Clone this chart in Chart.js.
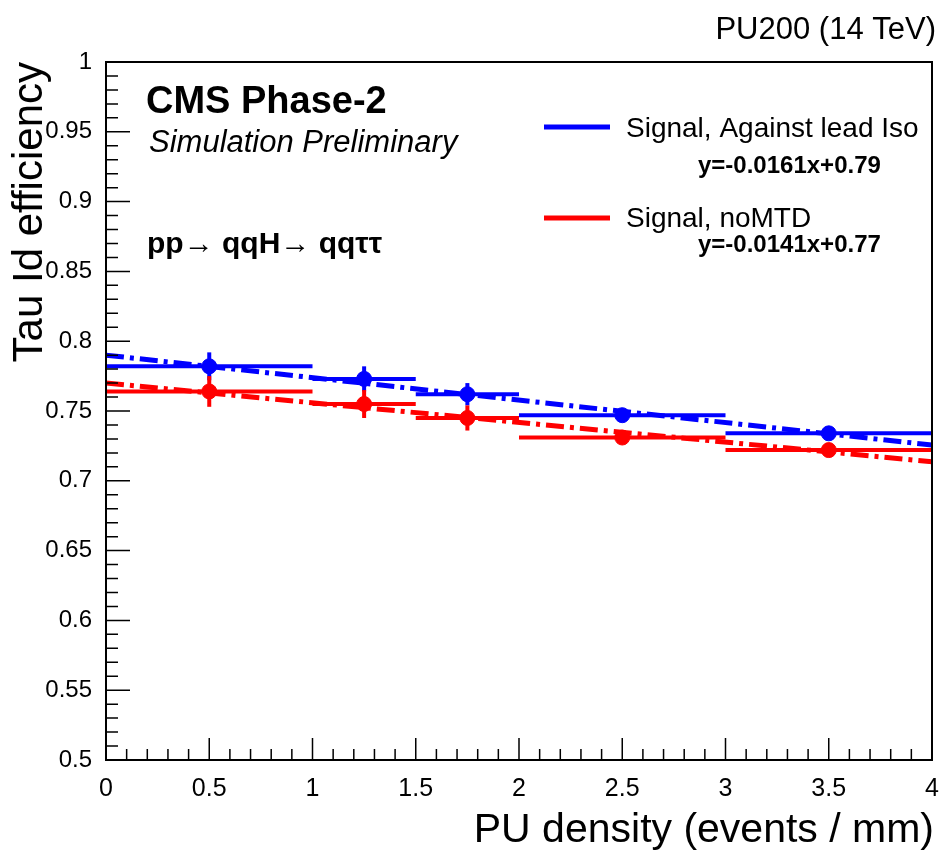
<!DOCTYPE html>
<html lang="en">
<head>
    <meta charset="UTF-8">
    <title>Tau Id efficiency vs PU density</title>
    <script src="https://cdn.jsdelivr.net/npm/chart.js"></script>
    <style>
        body {
            margin: 0;
            background: #fff;
        }
        canvas {
            display: block;
        }
    </style>
</head>
<body>
    <canvas id="myChart" width="946" height="855"></canvas>

    <script>
        // bins in PU density (events / mm)
        const binLow = [0, 1, 1.5, 2, 3];
        const binHigh = [1, 1.5, 2, 3, 4];
        const binCenter = [0.5, 1.25, 1.75, 2.5, 3.5];

        // Signal, Against lead Iso
        const blueEff = [0.782, 0.773, 0.762, 0.747, 0.734];
        const blueErr = [0.010, 0.009, 0.008, 0.003, 0.003];
        // Signal, noMTD
        const redEff = [0.764, 0.755, 0.745, 0.731, 0.722];
        const redErr = [0.011, 0.010, 0.009, 0.003, 0.003];

        // linear fits, values at x = 0 and x = 4
        const fitX = [0, 4];
        const blueFit = [0.79, 0.7256];
        const redFit = [0.77, 0.7136];

        const xTicks = [0, 0.5, 1, 1.5, 2, 2.5, 3, 3.5, 4];
        const yTicks = [0.5, 0.55, 0.6, 0.65, 0.7, 0.75, 0.8, 0.85, 0.9, 0.95, 1];

        const BLUE = 'rgb(0, 0, 255)';
        const RED = 'rgb(255, 0, 0)';
        const FONT = '"Liberation Sans", Arial, sans-serif';

        const series = [
            { eff: blueEff, err: blueErr, color: BLUE },
            { eff: redEff, err: redErr, color: RED }
        ];

        function pts(xs, ys) {
            return xs.map((x, i) => ({ x: x, y: ys[i] }));
        }

        const rootPlugin = {
            id: 'rootStyle',
            beforeDatasetsDraw(chart) {
                const ctx = chart.ctx;
                const xs = chart.scales.x;
                const ys = chart.scales.y;
                ctx.save();
                ctx.lineWidth = 4;
                series.forEach(s => {
                    ctx.strokeStyle = s.color;
                    s.eff.forEach((v, i) => {
                        const py = ys.getPixelForValue(v);
                        ctx.beginPath();
                        ctx.moveTo(xs.getPixelForValue(binLow[i]), py);
                        ctx.lineTo(xs.getPixelForValue(binHigh[i]), py);
                        ctx.stroke();
                        const px = xs.getPixelForValue(binCenter[i]);
                        ctx.beginPath();
                        ctx.moveTo(px, ys.getPixelForValue(v - s.err[i]));
                        ctx.lineTo(px, ys.getPixelForValue(v + s.err[i]));
                        ctx.stroke();
                    });
                });
                ctx.restore();
            },
            afterDraw(chart) {
                const ctx = chart.ctx;
                const a = chart.chartArea;
                const xs = chart.scales.x;
                const ys = chart.scales.y;
                ctx.save();

                // frame
                ctx.strokeStyle = '#000';
                ctx.lineWidth = 2;
                ctx.strokeRect(a.left, a.top, a.right - a.left, a.bottom - a.top);

                // ticks, pointing inwards
                ctx.lineWidth = 1.5;
                ctx.beginPath();
                for (let i = 0; i <= 40; i++) {
                    const px = xs.getPixelForValue(i * 0.1);
                    const len = (i % 5 === 0) ? 22 : 11;
                    ctx.moveTo(px, a.bottom);
                    ctx.lineTo(px, a.bottom - len);
                }
                for (let i = 0; i <= 50; i++) {
                    const py = ys.getPixelForValue(0.5 + i * 0.01);
                    const len = (i % 5 === 0) ? 24 : 12;
                    ctx.moveTo(a.left, py);
                    ctx.lineTo(a.left + len, py);
                }
                ctx.stroke();

                // axis titles
                ctx.fillStyle = '#000';
                ctx.font = '41px ' + FONT;
                ctx.textAlign = 'right';
                ctx.textBaseline = 'alphabetic';
                ctx.fillText('PU density (events / mm)', 934, 842);
                ctx.save();
                ctx.translate(42, 62);
                ctx.rotate(-Math.PI / 2);
                ctx.font = '42px ' + FONT;
                ctx.fillText('Tau Id efficiency', 0, 0);
                ctx.restore();

                ctx.font = '31px ' + FONT;
                ctx.fillText('PU200 (14 TeV)', 936, 39);

                // CMS labels
                ctx.textAlign = 'left';
                ctx.font = 'bold 38px ' + FONT;
                ctx.fillText('CMS Phase-2', 146, 113);
                ctx.font = 'italic 31px ' + FONT;
                ctx.fillText('Simulation Preliminary', 149, 152);
                ctx.font = 'bold 30px ' + FONT;
                ctx.fillText('pp\u2192 qqH\u2192 qq\u03c4\u03c4', 147, 253);

                // legend
                ctx.lineWidth = 5;
                ctx.strokeStyle = BLUE;
                ctx.beginPath();
                ctx.moveTo(544, 127);
                ctx.lineTo(610, 127);
                ctx.stroke();
                ctx.strokeStyle = RED;
                ctx.beginPath();
                ctx.moveTo(544, 218);
                ctx.lineTo(610, 218);
                ctx.stroke();

                ctx.font = '28px ' + FONT;
                ctx.fillText('Signal, Against lead Iso', 626, 137);
                ctx.fillText('Signal, noMTD', 626, 227);
                ctx.font = 'bold 24px ' + FONT;
                ctx.fillText('y=-0.0161x+0.79', 698, 173);
                ctx.fillText('y=-0.0141x+0.77', 698, 252);

                ctx.restore();
            }
        };

        const ctx = document.getElementById('myChart').getContext('2d');
        new Chart(ctx, {
            type: 'scatter',
            data: {
                datasets: [
                    {
                        type: 'line',
                        data: pts(fitX, blueFit),
                        borderColor: BLUE,
                        borderWidth: 5,
                        borderDash: [18, 6, 4, 6],
                        pointRadius: 0,
                        fill: false
                    },
                    {
                        type: 'line',
                        data: pts(fitX, redFit),
                        borderColor: RED,
                        borderWidth: 5,
                        borderDash: [18, 6, 4, 6],
                        pointRadius: 0,
                        fill: false
                    },
                    {
                        data: pts(binCenter, blueEff),
                        backgroundColor: BLUE,
                        borderColor: BLUE,
                        pointRadius: 7.5
                    },
                    {
                        data: pts(binCenter, redEff),
                        backgroundColor: RED,
                        borderColor: RED,
                        pointRadius: 7.5
                    }
                ]
            },
            options: {
                responsive: false,
                animation: false,
                layout: {
                    padding: { top: 62, right: 14, bottom: 0, left: 0 }
                },
                plugins: {
                    legend: { display: false },
                    tooltip: { enabled: false }
                },
                scales: {
                    x: {
                        type: 'linear',
                        min: 0,
                        max: 4,
                        afterFit: s => { s.height = 95; },
                        afterBuildTicks: s => { s.ticks = xTicks.map(v => ({ value: v })); },
                        grid: { display: false },
                        border: { display: false },
                        ticks: {
                            color: '#000',
                            padding: 6,
                            maxRotation: 0,
                            font: { family: FONT, size: 25 },
                            callback: v => String(v)
                        }
                    },
                    y: {
                        min: 0.5,
                        max: 1,
                        afterFit: s => { s.width = 106; },
                        afterBuildTicks: s => { s.ticks = yTicks.map(v => ({ value: v })); },
                        grid: { display: false },
                        border: { display: false },
                        ticks: {
                            color: '#000',
                            padding: 6,
                            font: { family: FONT, size: 24 },
                            callback: v => String(v)
                        }
                    }
                }
            },
            plugins: [rootPlugin]
        });
    </script>
</body>
</html>
